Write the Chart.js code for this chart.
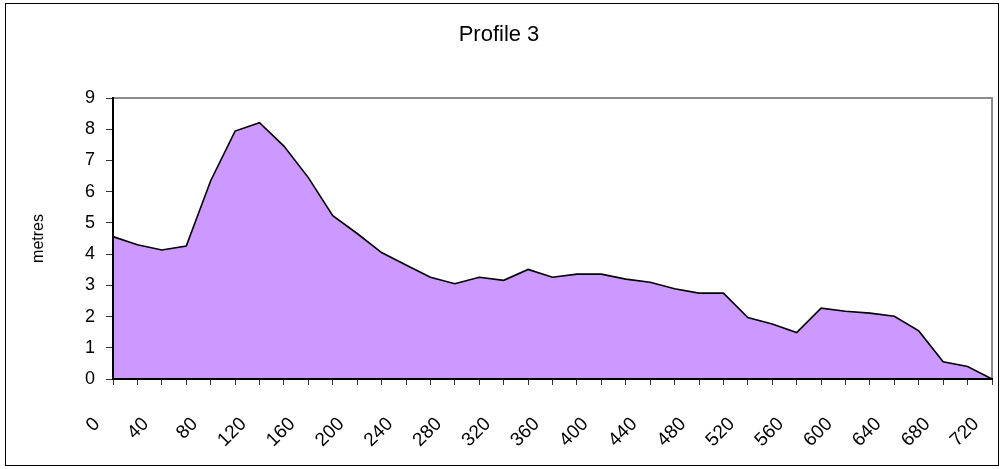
<!DOCTYPE html>
<html>
<head>
<meta charset="utf-8">
<script src="https://cdn.jsdelivr.net/npm/chart.js@4"></script>
<style>
  html, body { margin: 0; padding: 0; background: #fff; }
</style>
</head>
<body>
<canvas id="profile" width="1000" height="469"></canvas>
<script>
// distance along the profile (x categories, every 20)
const distances = [0, 20, 40, 60, 80, 100, 120, 140, 160, 180, 200, 220, 240, 260, 280, 300, 320, 340,
                   360, 380, 400, 420, 440, 460, 480, 500, 520, 540, 560, 580, 600, 620, 640, 660, 680, 700, 720];
// depth in metres at each distance
const depths = [4.56, 4.30, 4.13, 4.26, 6.35, 7.94, 8.21, 7.46, 6.45, 5.23, 4.66, 4.05, 3.65, 3.26, 3.05, 3.26, 3.16, 3.51,
                3.26, 3.36, 3.36, 3.20, 3.10, 2.89, 2.75, 2.75, 1.97, 1.76, 1.49, 2.27, 2.17, 2.11, 2.01, 1.54, 0.55, 0.40, 0];
const yMin = 0, yMax = 9, yStep = 1;

const fontFamily = "'Liberation Sans', Arial, sans-serif";

// outer chart frame + grey plot-area border (top and right)
const framePlugin = {
    id: 'frame',
    beforeDraw(chart) {
        const ctx = chart.ctx;
        const a = chart.chartArea;
        ctx.save();
        ctx.fillStyle = '#fff';
        ctx.fillRect(0, 0, chart.width, chart.height);
        ctx.strokeStyle = '#000';
        ctx.lineWidth = 1;
        ctx.strokeRect(5.5, 3.5, 993, 462);
        ctx.strokeStyle = '#8c8c8c';
        ctx.lineWidth = 2;
        ctx.beginPath();
        ctx.moveTo(a.left, a.top);
        ctx.lineTo(a.right, a.top);
        ctx.lineTo(a.right, a.bottom);
        ctx.stroke();
        ctx.restore();
    }
};

new Chart(document.getElementById('profile'), {
    type: 'line',
    data: {
        labels: distances,
        datasets: [{
            data: depths,
            fill: 'origin',
            backgroundColor: '#CC99FF',
            borderColor: '#000',
            borderWidth: 1.6,
            pointRadius: 0,
            tension: 0
        }]
    },
    options: {
        responsive: false,
        animation: false,
        layout: { padding: { top: 3, left: 6, right: 8, bottom: 4 } },
        plugins: {
            legend: { display: false },
            tooltip: { enabled: false },
            title: {
                display: true,
                text: 'Profile 3',
                color: '#000',
                font: { family: fontFamily, size: 22, weight: 'normal' },
                padding: { top: 19, bottom: 49.6 }
            }
        },
        scales: {
            x: {
                z: 1,
                offset: false,
                grid: { z: 1, drawOnChartArea: false, drawTicks: true, tickLength: 6, color: '#333' },
                border: { z: 1, display: true, color: '#000', width: 2 },
                ticks: {
                    autoSkip: false,
                    minRotation: 45,
                    maxRotation: 45,
                    padding: 28,
                    labelOffset: -16,
                    color: '#000',
                    font: { family: fontFamily, size: 19 },
                    callback: (v, i) => (i % 2 === 0 ? String(distances[i]) : '')
                },
                afterFit(scale) {
                    scale.height = 86;
                    scale.paddingLeft = 0;
                    scale.paddingRight = 0;
                }
            },
            y: {
                z: 1,
                min: yMin,
                max: yMax,
                grid: { z: 1, drawOnChartArea: false, drawTicks: true, tickLength: 7, color: '#333' },
                border: { z: 1, display: true, color: '#000', width: 2 },
                ticks: {
                    stepSize: yStep,
                    padding: 11,
                    color: '#000',
                    font: { family: fontFamily, size: 18 }
                },
                title: {
                    display: true,
                    text: 'metres',
                    color: '#000',
                    font: { family: fontFamily, size: 16 },
                    padding: { top: 23.4, bottom: 0 }
                },
                afterFit(scale) {
                    scale.width = 107;
                }
            }
        }
    },
    plugins: [framePlugin]
});
</script>
</body>
</html>
